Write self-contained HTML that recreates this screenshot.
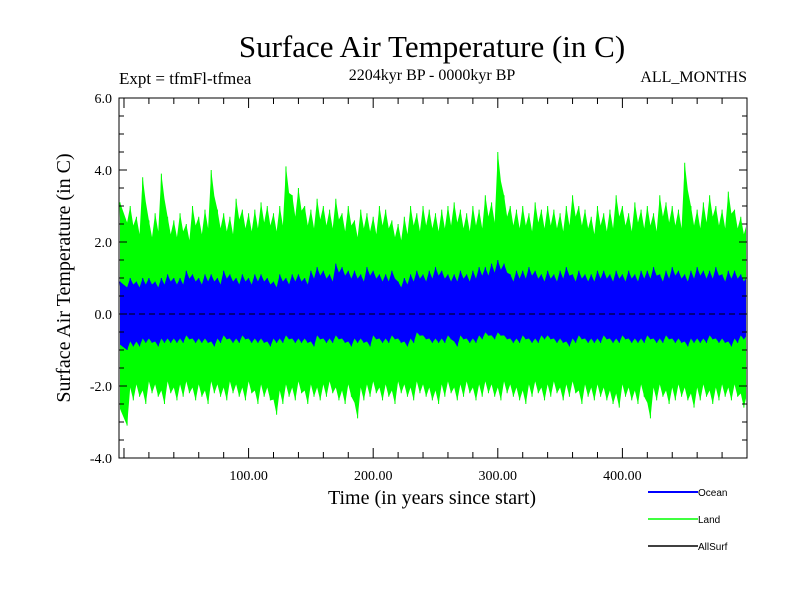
<!DOCTYPE html>
<html><head><meta charset="utf-8"><style>
body{margin:0;background:#fff;}
svg text{font-family:"Liberation Serif",serif;}
svg text.sans{font-family:"Liberation Sans",sans-serif;}
</style></head><body>
<svg id="chart" width="800" height="600">
<rect width="800" height="600" fill="#fff"/>
<text x="432" y="57" font-size="31" text-anchor="middle">Surface Air Temperature (in C)</text>
<text x="119" y="84" font-size="17">Expt = tfmFl-tfmea</text>
<text x="432" y="80" font-size="16" text-anchor="middle">2204kyr BP - 0000kyr BP</text>
<text x="747" y="82" font-size="16" text-anchor="end">ALL_MONTHS</text>
<g id="marks"></g>
<g id="axes"></g>
<text x="432" y="504" font-size="20" text-anchor="middle">Time (in years since start)</text>
<text transform="translate(70,278) rotate(-90)" font-size="20" text-anchor="middle">Surface Air Temperature (in C)</text>
<g>
<line x1="648" y1="492" x2="698" y2="492" stroke="#0000ff" stroke-width="2"/>
<text class="sans" x="698" y="496" font-size="10">Ocean</text>
<line x1="648" y1="519" x2="698" y2="519" stroke="#00ff00" stroke-width="1.5"/>
<text class="sans" x="698" y="523" font-size="10">Land</text>
<line x1="648" y1="546" x2="698" y2="546" stroke="#000" stroke-width="1.5"/>
<text class="sans" x="698" y="550" font-size="10">AllSurf</text>
</g>
</svg>
<script>
const years=[];for(let i=0;i<100;i++)years.push(i*5);
const landHigh=[3.1,3.0,2.7,3.8,2.6,2.8,3.9,2.7,2.6,2.8,2.5,3.0,2.7,2.9,4.0,2.9,2.8,2.7,3.2,2.9,2.8,2.9,3.1,3.0,2.8,3.0,4.1,3.3,3.5,3.0,2.9,3.2,3.0,2.9,3.2,2.8,3.0,2.6,2.9,2.8,2.7,3.0,2.9,2.6,2.5,2.7,3.0,2.8,3.0,2.9,2.8,2.9,3.0,3.1,2.9,2.8,3.0,2.9,3.3,3.1,4.5,3.3,3.0,2.9,3.0,2.8,3.1,2.9,3.0,2.9,2.8,3.0,3.3,3.0,2.9,2.7,3.0,2.8,2.9,3.3,3.0,2.8,3.1,2.9,3.0,2.8,3.3,3.1,3.0,2.9,4.2,3.0,2.9,3.1,3.3,3.0,2.9,3.4,2.9,2.7];
const landLow=[-3.1,-2.4,-2.3,-2.5,-2.2,-2.3,-2.5,-2.2,-2.4,-2.3,-2.2,-2.4,-2.3,-2.5,-2.2,-2.3,-2.4,-2.2,-2.3,-2.4,-2.2,-2.5,-2.3,-2.4,-2.8,-2.5,-2.3,-2.4,-2.2,-2.5,-2.3,-2.4,-2.3,-2.2,-2.4,-2.5,-2.3,-2.9,-2.4,-2.3,-2.2,-2.4,-2.3,-2.5,-2.2,-2.3,-2.4,-2.2,-2.3,-2.4,-2.5,-2.3,-2.2,-2.4,-2.3,-2.2,-2.4,-2.3,-2.2,-2.3,-2.4,-2.2,-2.3,-2.4,-2.5,-2.3,-2.2,-2.4,-2.3,-2.2,-2.4,-2.3,-2.2,-2.5,-2.3,-2.4,-2.3,-2.4,-2.5,-2.6,-2.3,-2.4,-2.5,-2.3,-2.9,-2.4,-2.3,-2.5,-2.4,-2.3,-2.4,-2.6,-2.4,-2.3,-2.5,-2.4,-2.3,-2.4,-2.3,-2.6];
const oceanHigh=[0.9,1.0,0.9,1.0,1.0,0.9,1.0,1.1,1.0,1.0,1.2,1.1,1.0,1.1,1.1,1.0,1.2,1.1,1.0,1.1,1.0,1.1,1.1,1.0,0.9,1.1,1.0,1.1,1.1,1.0,1.2,1.3,1.2,1.1,1.4,1.3,1.2,1.2,1.1,1.3,1.2,1.1,1.1,1.2,0.9,1.0,1.1,1.2,1.1,1.2,1.3,1.2,1.1,1.1,1.2,1.1,1.2,1.3,1.3,1.4,1.5,1.4,1.1,1.2,1.2,1.3,1.2,1.1,1.2,1.1,1.2,1.3,1.1,1.2,1.1,1.1,1.2,1.2,1.1,1.2,1.1,1.2,1.1,1.2,1.2,1.3,1.1,1.2,1.3,1.2,1.1,1.2,1.3,1.2,1.2,1.3,1.1,1.2,1.2,1.1];
const oceanLow=[-1.0,-0.9,-0.9,-0.8,-0.8,-0.9,-0.8,-0.8,-0.8,-0.8,-0.7,-0.8,-0.8,-0.8,-0.9,-0.8,-0.7,-0.8,-0.8,-0.7,-0.8,-0.8,-0.8,-0.9,-0.8,-0.8,-0.7,-0.8,-0.8,-0.8,-0.9,-0.7,-0.8,-0.8,-0.7,-0.8,-0.9,-0.8,-0.8,-0.9,-0.7,-0.8,-0.8,-0.7,-0.8,-0.9,-0.8,-0.6,-0.7,-0.8,-0.8,-0.8,-0.7,-0.9,-0.7,-0.8,-0.8,-0.7,-0.6,-0.7,-0.6,-0.7,-0.8,-0.8,-0.7,-0.8,-0.8,-0.7,-0.7,-0.8,-0.8,-0.9,-0.8,-0.7,-0.8,-0.8,-0.8,-0.7,-0.8,-0.8,-0.7,-0.8,-0.8,-0.8,-0.7,-0.8,-0.8,-0.7,-0.8,-0.8,-0.9,-0.8,-0.8,-0.8,-0.7,-0.8,-0.8,-0.9,-0.8,-0.7];
const yTicks=[-4,-2,0,2,4,6];
const yTickLabels=["-4.0","-2.0","0.0","2.0","4.0","6.0"];
const xTicks=[100,200,300,400];
const xTickLabels=["100.00","200.00","300.00","400.00"];

const X0=119,X1=747,Y0=98,Y1=458,XMIN=-4,XMAX=500,YMIN=-4,YMAX=6;
const sx=v=>X0+(v-XMIN)/(XMAX-XMIN)*(X1-X0);
const sy=v=>Y1-(v-YMIN)/(YMAX-YMIN)*(Y1-Y0);
const NS='http://www.w3.org/2000/svg';
const mk=(t,a,p)=>{const e=document.createElementNS(NS,t);for(const k in a)e.setAttribute(k,a[k]);p.appendChild(e);return e;};
const marks=document.getElementById('marks'),axes=document.getElementById('axes');
function band(hi,lo,color,name){
  let up=[],dn=[],zz=[];
  years.forEach((t,i)=>{
    const xa=i===0?X0+1:Math.min(sx(t),X1-1),xb=Math.min(sx(t+2.5),X1-1);
    up.push(xa+','+sy(hi[i]));up.push(xb+','+sy(hi[i]*0.82));
    dn.push(xa+','+sy(lo[i]*0.85));dn.push(xb+','+sy(lo[i]));
    zz.push(xa+','+sy(hi[i]));zz.push(xb+','+sy(lo[i]));
  });
  const last=years.length-1;
  up.push((X1-1)+','+sy(hi[last]*0.9));dn.push((X1-1)+','+sy(lo[last]*0.9));
  const p=mk('polygon',{points:up.concat(dn.reverse()).join(' '),fill:color},marks);
  
  
  const l=mk('polyline',{points:zz.join(' '),fill:'none',stroke:color,'stroke-width':1},marks);
  
  
}
band(landHigh,landLow,'#00ff00','land');
band(oceanHigh,oceanLow,'#0000ff','ocean');
const z=mk('line',{x1:X0,x2:X1,y1:sy(0),y2:sy(0),stroke:'#000','stroke-dasharray':'6,4','stroke-width':1},marks);


const fr=mk('rect',{x:X0,y:Y0,width:X1-X0,height:Y1-Y0,fill:'none',stroke:'#000','stroke-width':1},axes);


for(let v=-4;v<=6.001;v+=0.5){
  const maj=Math.abs(v-Math.round(v/2)*2)<1e-6,len=maj?8:5;
  mk('line',{x1:X0,x2:X0+len,y1:sy(v),y2:sy(v),stroke:'#000'},axes);
  mk('line',{x1:X1,x2:X1-len,y1:sy(v),y2:sy(v),stroke:'#000'},axes);
}
for(let v=0;v<=500;v+=20){
  const maj=v%100===0,len=maj?10:6;
  mk('line',{x1:sx(v),x2:sx(v),y1:Y1,y2:Y1-len,stroke:'#000'},axes);
  mk('line',{x1:sx(v),x2:sx(v),y1:Y0,y2:Y0+len,stroke:'#000'},axes);
}
yTicks.forEach((v,i)=>{
  const t=mk('text',{x:X0-7,y:sy(v)+5,'font-size':14,'text-anchor':'end'},axes);
  t.textContent=yTickLabels[i];
  
  
});
xTicks.forEach((v,i)=>{
  const t=mk('text',{x:sx(v),y:Y1+22,'font-size':14,'text-anchor':'middle'},axes);
  t.textContent=xTickLabels[i];
  
  
});
</script>
</body></html>
